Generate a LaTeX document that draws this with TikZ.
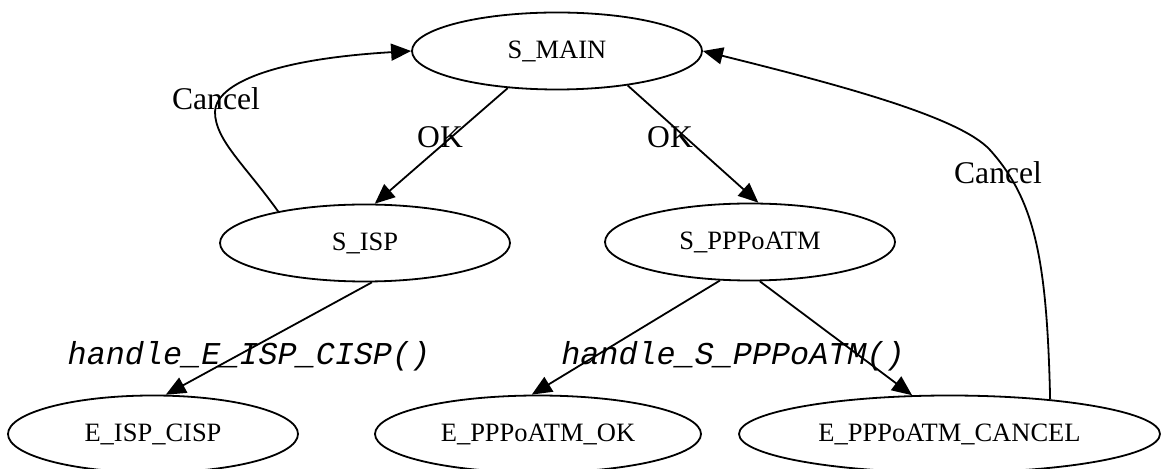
\documentclass[tikz,border=0pt]{standalone}
\usepackage{fontspec}
\setmainfont{Liberation Serif}
\setmonofont{Liberation Mono}
\usetikzlibrary{shapes.geometric,arrows.meta}

\tikzset{
  state/.style={ellipse, draw, line width=0.9pt, inner sep=0pt,
    minimum width=145pt, minimum height=38.5pt,
    font=\fontsize{13.25}{16}\selectfont},
  trans/.style={line width=0.9pt, -{Triangle[length=10pt,width=8.5pt]}},
  lbl/.style={inner sep=0pt, font=\fontsize{15.8}{18}\selectfont},
  fn/.style={inner sep=0pt, font=\fontsize{15.9}{18}\selectfont\ttfamily\itshape}
}

\begin{document}
\begin{tikzpicture}[x=0.5pt, y=-0.5pt]
\useasboundingbox (0,0) rectangle (1161,469);
\clip (0,0) rectangle (1161,469);

\node[state] (smain) at (557,51) {S\_MAIN};
\node[state] (sisp) at (365,243) {S\_ISP};
\node[state] (sppp) at (750,242) {S\_PPPoATM};
\node[state] (ecisp) at (153,434) {E\_ISP\_CISP};
\node[state, minimum width=163pt] (eok) at (538,434) {E\_PPPoATM\_OK};
\node[state, minimum width=210.5pt] (ecancel) at (949.5,434) {E\_PPPoATM\_CANCEL};

\node[lbl] (ok1) at (440,137) {OK};
\node[lbl] (ok2) at (670,137) {OK};
\node[lbl] (cancel1) at (216,99) {Cancel};
\node[lbl] (cancel2) at (998,173) {Cancel};
\node[fn] (hisp) at (249,356) {handle\_E\_ISP\_CISP()};
\node[fn] (hppp) at (733,356) {handle\_S\_PPPoATM()};

\draw[trans] (smain.-143) -- (sisp.76);
\draw[trans] (smain.-26) -- (sppp.78);
\draw[trans] (sisp.-80) -- (ecisp.72);
\draw[trans] (sppp.-128) -- (eok.99);
\draw[trans] (sppp.-76) -- (ecancel.134);
% cancel edges back to S_MAIN
\draw[trans] (sisp.160) .. controls (245,165) and (215,140) .. (215,112)
  .. controls (215,88) and (260,60) .. (smain.west);
\draw[trans] (ecancel.19) .. controls (1047,260) and (1035,200) .. (990,150)
  .. controls (960,117) and (840,85) .. (smain.east);
\end{tikzpicture}
\end{document}
